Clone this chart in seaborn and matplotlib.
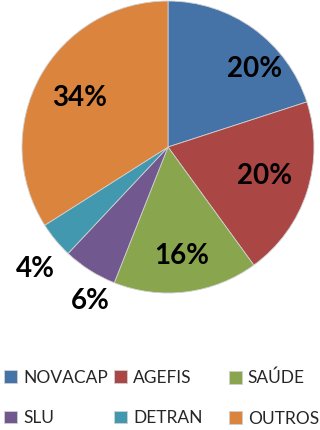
import numpy as np
import matplotlib
matplotlib.use('Agg')
import matplotlib.pyplot as plt
import seaborn as sns

sns.set_style('white')
plt.rcParams['font.family'] = ['Lato', 'DejaVu Sans']

# Dados
orgaos = ['NOVACAP', 'AGEFIS', 'SAÚDE', 'SLU', 'DETRAN', 'OUTROS']
percentuais = [20, 20, 16, 6, 4, 34]
cores = ['#4572A7', '#AA4643', '#89A54E', '#71588F', '#4198AF', '#DB843D']
# posição do rótulo: distância (fração do raio) e desvio de ângulo (graus)
dist_rotulo = [0.80, 0.69, 0.75, 1.18, 1.23, 0.69]
desvio_ang = [-12, 1, 0, 5.5, 3, 0]

fig = plt.figure(figsize=(3.2, 4.3), dpi=100)
ax = fig.add_axes([0.06875, 0.3186, 0.9125, 0.679])

wedges, _ = ax.pie(percentuais, colors=cores, startangle=90, counterclock=False,
                   wedgeprops=dict(linewidth=0.6, edgecolor='#d0d0d0'))
ax.set_xlim(-1, 1)
ax.set_ylim(-1, 1)
ax.set_aspect('equal')

# Rótulos de porcentagem
for w, p, d, da in zip(wedges, percentuais, dist_rotulo, desvio_ang):
    ang = np.deg2rad((w.theta1 + w.theta2) / 2 + da)
    ax.text(d * np.cos(ang), d * np.sin(ang), f'{p}%', ha='center', va='center',
            fontsize=20, fontweight='bold', color='black')

# Legenda: uma coluna por vez, preenchida por linhas
col_x = [0.012, 0.356, 0.715]
for c in range(3):
    idx = [c, c + 3]
    fig.legend([wedges[i] for i in idx], [orgaos[i] for i in idx],
               loc='upper left', bbox_to_anchor=(col_x[c], 0.140),
               frameon=False, fontsize=12.5, handlelength=0.75, handleheight=0.75,
               handletextpad=0.35, labelspacing=1.4, borderpad=0, borderaxespad=0)

fig.savefig('out.png', dpi=100)
